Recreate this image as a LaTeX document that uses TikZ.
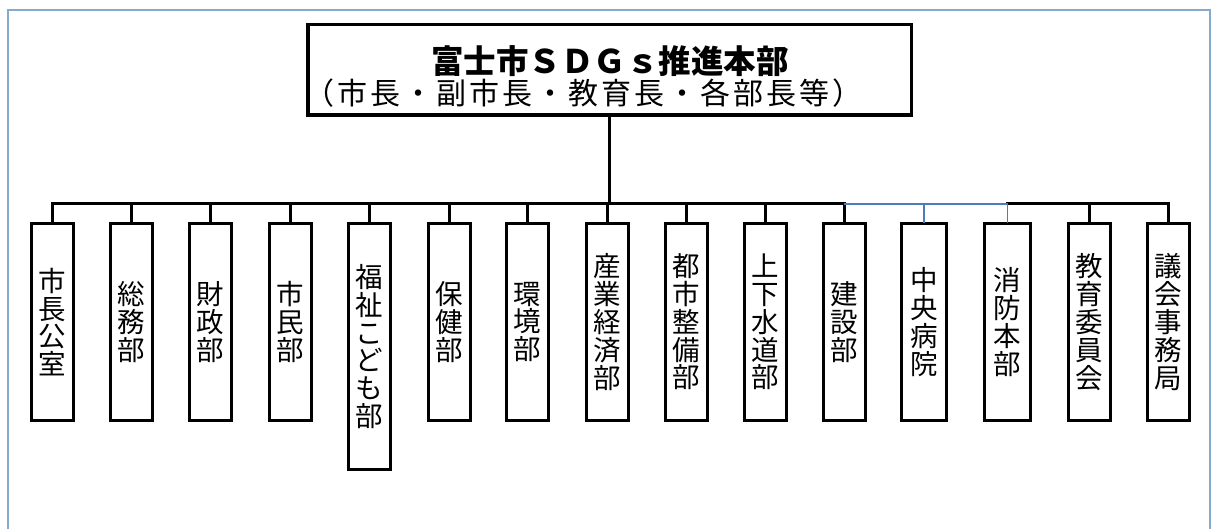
\documentclass[tikz,border=0pt]{standalone}
\usepackage{fontspec}
\newfontfamily\jp{Noto Sans CJK JP}
\definecolor{framecol}{HTML}{86A9CC}
\definecolor{linkblue}{HTML}{4A7EBB}
\tikzset{
  conn/.style={line width=3pt, black, line cap=rect},
  bconn/.style={line width=1.2pt, linkblue},
  dept/.style={draw, line width=3pt, minimum width=42pt, inner sep=0pt, outer sep=0pt,
    anchor=north, align=center, font=\jp\fontsize{27.5}{27.8}\selectfont},
  hqbox/.style={draw, line width=3.5pt, minimum width=603.5pt, minimum height=90.5pt,
    inner sep=0pt, outer sep=0pt},
  hqtext/.style={inner sep=0pt, outer sep=0pt}
}
\begin{document}
\begin{tikzpicture}[x=1pt,y=1pt]
\useasboundingbox (0,0) rectangle (1212,-529);
% outer frame
\draw[framecol, line width=1.3pt] (8,-529) -- (8,-10) -- (1210,-10) -- (1210,-529);
% headquarters
\node[hqbox] (hq) at (609.5,-70) {};
\node[hqtext, font=\jp\bfseries\fontsize{32.5}{34}\selectfont] (hqt) at (610,-61)
  {富士市ＳＤＧｓ推進本部};
\node[hqtext, font=\jp\fontsize{30}{34}\selectfont\addfontfeature{LetterSpace=10}] (hqs) at (583,-93)
  {（市長・副市長・教育長・各部長等）};
% departments
\node[dept, minimum height=197pt] (d1)  at (52.5,-223.5)  {市\\長\\公\\室};
\node[dept, minimum height=197pt] (d2)  at (131.5,-223.5) {総\\務\\部};
\node[dept, minimum height=197pt] (d3)  at (210.5,-223.5) {財\\政\\部};
\node[dept, minimum height=197pt] (d4)  at (290,-223.5)   {市\\民\\部};
\node[dept, minimum height=246pt] (d5)  at (369,-223.5)   {福\\祉\\こ\\ど\\も\\部};
\node[dept, minimum height=197pt] (d6)  at (449,-223.5)   {保\\健\\部};
\node[dept, minimum height=197pt] (d7)  at (527,-223.5)   {環\\境\\部};
\node[dept, minimum height=197pt] (d8)  at (607,-223.5)   {産\\業\\経\\済\\部};
\node[dept, minimum height=197pt] (d9)  at (686,-223.5)   {都\\市\\整\\備\\部};
\node[dept, minimum height=197pt] (d10) at (765,-223.5)   {上\\下\\水\\道\\部};
\node[dept, minimum height=197pt] (d11) at (844,-223.5)   {建\\設\\部};
\node[dept, minimum height=197pt, minimum width=45pt] (d12) at (924,-223.5)  {中\\央\\病\\院};
\node[dept, minimum height=197pt, minimum width=46pt] (d13) at (1007.5,-223.5) {消\\防\\本\\部};
\node[dept, minimum height=197pt] (d14) at (1089.5,-223.5) {教\\育\\委\\員\\会};
\node[dept, minimum height=197pt] (d15) at (1168.5,-223.5) {議\\会\\事\\務\\局};
% bus level
\coordinate (bus) at (609.5,-204);
% trunk
\draw[conn] (hq.south) -- (hq.south |- bus);
% bus (black parts)
\draw[conn] (d1.north) -- (d1.north |- bus) -- (d11.north |- bus) -- (d11.north);
\draw[conn] (d13.north |- bus) -- (d15.north |- bus) -- (d15.north);
% blue part of the bus
\draw[linkblue, line width=2pt] (d11.north |- bus) -- (d13.north |- bus);
% ticks
\foreach \k in {2,3,4,5,6,7,8,9,10,14} {
  \draw[conn] (d\k.north) -- (d\k.north |- bus);
}
\draw[bconn] (d12.north) -- (d12.north |- bus);
\draw[bconn] (d13.north) -- (d13.north |- bus);
\end{tikzpicture}
\end{document}
